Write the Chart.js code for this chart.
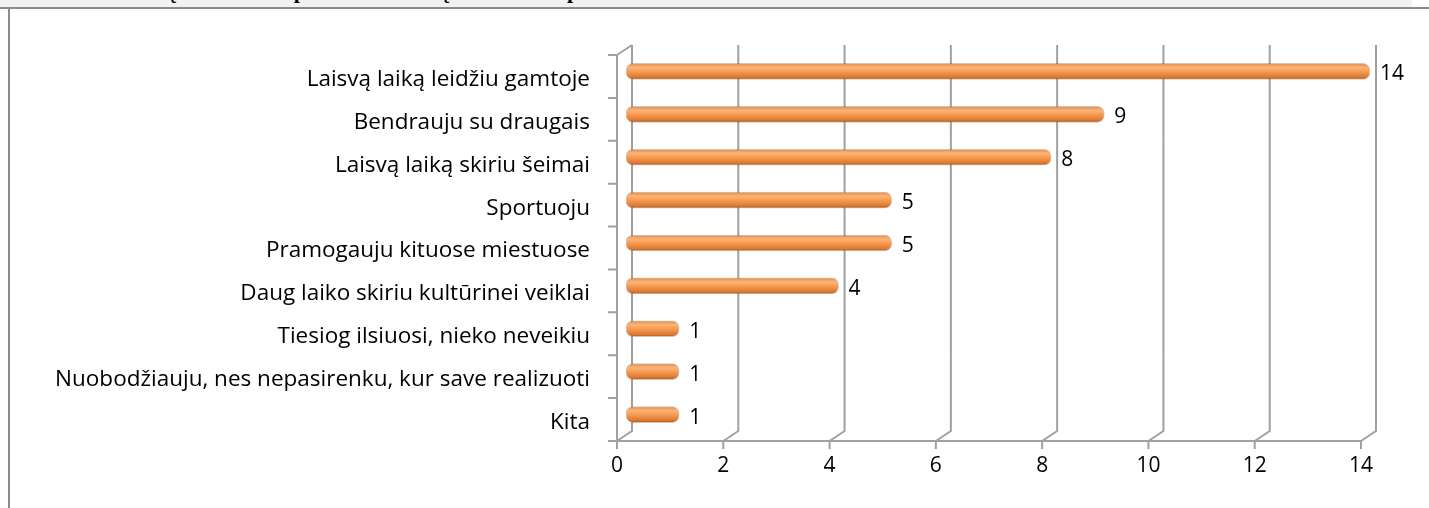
<!DOCTYPE html>
<html>
<head>
<meta charset="utf-8">
<script src="https://cdn.jsdelivr.net/npm/chart.js@4"></script>
<style>
  html, body { margin: 0; padding: 0; background: #fff; }
  body { width: 1429px; height: 508px; position: relative; overflow: hidden; }
  #strip { position: absolute; left: 0; top: 0; width: 1412px; height: 7px; background: #f2f2f2; overflow: hidden; }
  #title { position: absolute; left: 108px; top: -22px; font: bold 22px "Liberation Serif", serif; color: #000; white-space: nowrap; }
  #topline { position: absolute; left: 0; top: 7px; width: 1429px; height: 2px; background: #8c8c8c; }
  #leftline { position: absolute; left: 8px; top: 8px; width: 2px; height: 500px; background: #8c8c8c; }
  #wrap { position: absolute; left: 0; top: 0; width: 1429px; height: 508px; }
</style>
</head>
<body>
<div id="strip"><div id="title">5. Kokį laisvalaikio praleidimo būdą dažniausiai pasirenkate?</div></div>
<div id="topline"></div>
<div id="leftline"></div>
<div id="wrap"><canvas id="chart" width="1429" height="508"></canvas></div>
<script>
const categories = [
    "Laisvą laiką leidžiu gamtoje",
    "Bendrauju su draugais",
    "Laisvą laiką skiriu šeimai",
    "Sportuoju",
    "Pramogauju kituose miestuose",
    "Daug laiko skiriu kultūrinei veiklai",
    "Tiesiog ilsiuosi, nieko neveikiu",
    "Nuobodžiauju, nes nepasirenku, kur save realizuoti",
    "Kita"
];
const answers = [14, 9, 8, 5, 5, 4, 1, 1, 1];
const xTicks = [0, 2, 4, 6, 8, 10, 12, 14];

// 3d look: back wall offset and bar depth offset
const DX = 15, DY = -10;
const BX = 9, BY = -5;
const LINE = "#a0a0a0";
const FONT = "'Open Sans', sans-serif";

function barFill(ctx) {
    const chart = ctx.chart;
    const y = chart.scales.y;
    if (!y || ctx.dataIndex === undefined) return "#f79646";
    const c = y.getPixelForValue(ctx.dataIndex);
    if (!Number.isFinite(c)) return "#f79646";
    const g = chart.ctx.createLinearGradient(0, c - 8, 0, c + 8);
    g.addColorStop(0, "#e08a45");
    g.addColorStop(0.25, "#fcb478");
    g.addColorStop(0.5, "#f89c52");
    g.addColorStop(0.85, "#db7a33");
    g.addColorStop(1, "#a8561c");
    return g;
}

const frame3d = {
    id: "frame3d",
    beforeDatasetsDraw(chart) {
        const { ctx, chartArea: a, scales: { x, y } } = chart;
        ctx.save();
        ctx.strokeStyle = LINE;
        ctx.lineWidth = 2;
        ctx.beginPath();
        // back wall verticals with floor diagonals
        xTicks.forEach(v => {
            const px = x.getPixelForValue(v);
            ctx.moveTo(px + DX, a.top + DY);
            ctx.lineTo(px + DX, a.bottom + DY);
            ctx.lineTo(px, a.bottom);
        });
        // side wall top diagonal
        ctx.moveTo(a.left, a.top);
        ctx.lineTo(a.left + DX, a.top + DY);
        // front axes
        ctx.moveTo(a.left, a.top);
        ctx.lineTo(a.left, a.bottom);
        ctx.lineTo(x.getPixelForValue(14), a.bottom);
        // tick marks
        xTicks.forEach(v => {
            const px = x.getPixelForValue(v);
            ctx.moveTo(px, a.bottom);
            ctx.lineTo(px, a.bottom + 8);
        });
        const step = (a.bottom - a.top) / categories.length;
        for (let i = 0; i <= categories.length; i++) {
            ctx.moveTo(a.left - 9, a.top + i * step);
            ctx.lineTo(a.left, a.top + i * step);
        }
        ctx.stroke();
        ctx.restore();
        ctx.save();
        ctx.translate(BX, BY);
    },
    afterDatasetsDraw(chart) {
        chart.ctx.restore();
        const { ctx } = chart;
        const meta = chart.getDatasetMeta(0);
        ctx.save();
        ctx.fillStyle = "#000";
        ctx.font = "21px " + FONT;
        ctx.textAlign = "left";
        ctx.textBaseline = "middle";
        meta.data.forEach((bar, i) => {
            ctx.fillText(String(answers[i]), bar.x + BX + 10, bar.y + BY + 3);
        });
        ctx.restore();
    }
};

new Chart(document.getElementById("chart"), {
    type: "bar",
    data: {
        labels: categories,
        datasets: [{
            data: answers,
            backgroundColor: barFill,
            borderColor: "rgba(150,80,30,0.35)",
            borderWidth: 1,
            borderSkipped: false,
            borderRadius: 7,
            barThickness: 16
        }]
    },
    options: {
        indexAxis: "y",
        responsive: false,
        animation: false,
        layout: { padding: { left: 0, top: 55, right: 68, bottom: 0 } },
        plugins: { legend: { display: false }, tooltip: { enabled: false } },
        scales: {
            x: {
                min: 0,
                max: 14,
                ticks: { stepSize: 2, padding: 12, color: "#000", font: { family: FONT, size: 21 } },
                grid: { display: false, drawTicks: false },
                border: { display: false },
                afterFit(scale) { scale.height = 67; }
            },
            y: {
                ticks: { padding: 27, labelOffset: 3, color: "#000", font: { family: FONT, size: 22.5 }, autoSkip: false },
                grid: { display: false, drawTicks: false },
                border: { display: false },
                afterFit(scale) { scale.width = 617; }
            }
        }
    },
    plugins: [frame3d]
});
</script>
</body>
</html>
